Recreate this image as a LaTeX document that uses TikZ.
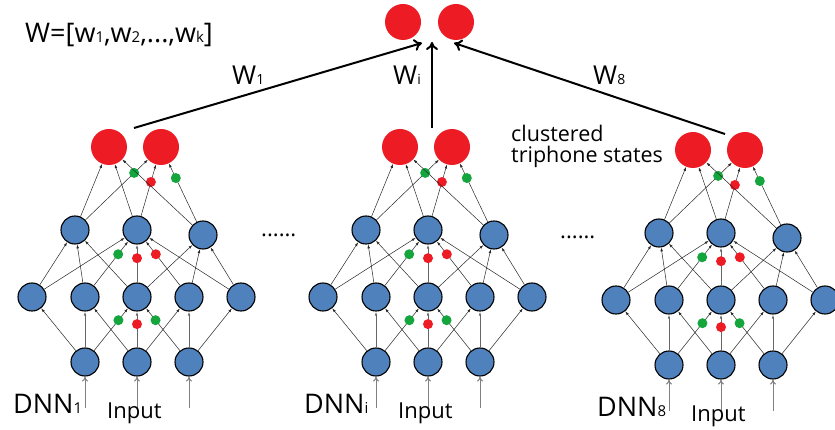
\documentclass[tikz,border=0pt]{standalone}
\usepackage{fontspec}
\setmainfont{Open Sans}
\usetikzlibrary{arrows.meta}
\definecolor{nblue}{RGB}{79,129,189}
\definecolor{nred}{RGB}{237,28,36}
\definecolor{ngreen}{RGB}{20,165,60}
\newcommand{\fs}[1]{\fontsize{#1}{#1}\selectfont}
\tikzset{
  hid/.style={circle, fill=nblue, draw=black, line width=1.1pt, minimum size=28pt, inner sep=0pt},
  outn/.style={circle, fill=nred, minimum size=36pt, inner sep=0pt},
  gdot/.style={circle, fill=ngreen, minimum size=10pt, inner sep=0pt},
  rdot/.style={circle, fill=nred, minimum size=10pt, inner sep=0pt},
  conn/.style={-{Latex[length=4pt,width=2.6pt]}, line width=0.5pt, draw=black!85},
  vconn/.style={-{Latex[length=4pt,width=2.6pt]}, line width=0.9pt, draw=black!60},
  inarr/.style={-{To[length=5pt,width=6pt]}, line width=1pt, draw=black!50},
  bigarr/.style={-{To[length=8pt,width=12pt]}, line width=2pt, draw=black},
  lbl/.style={inner sep=0pt, anchor=base west, text=black},
}
\begin{document}
\begin{tikzpicture}[x=1pt,y=-1pt]
\useasboundingbox (0,0) rectangle (835,430);
% top output nodes
\node[outn] (top1) at (403,22) {};
\node[outn] (top2) at (456,22) {};
\node[lbl] (wvec) at (25,43) {\fs{27}W=[w{\fs{15}1},w{\fs{15}2},...,w{\fs{15}k}]};
% networks
\foreach \n/\dx/\dy/\s in {1/0/0/1, 2/291/0/i, 3/584/3/8} {
\begin{scope}[shift={(\dx,\dy)}]
  \node[outn] (o\n1) at (109,147) {};
  \node[outn] (o\n2) at (161,147) {};
  \node[hid] (t\n1) at (75,230) {};
  \node[hid] (t\n2) at (137,230) {};
  \node[hid] (t\n3) at (203,235) {};
  \node[hid] (m\n1) at (32,297) {};
  \node[hid] (m\n2) at (85,297) {};
  \node[hid] (m\n3) at (137,297) {};
  \node[hid] (m\n4) at (189,297) {};
  \node[hid] (m\n5) at (241,297) {};
  \node[hid] (b\n1) at (85,362) {};
  \node[hid] (b\n2) at (137,362) {};
  \node[hid] (b\n3) at (189,362) {};
  \coordinate (i\n1) at (85,408);
  \coordinate (i\n2) at (137,408);
  \coordinate (i\n3) at (189,408);
  % input arrows
  \draw[inarr] (i\n1) -- (b\n1);
  \draw[inarr] (i\n2) -- (b\n2);
  \draw[inarr] (i\n3) -- (b\n3);
  % bottom -> middle
  \draw[conn] (b\n1) -- (m\n1);
  \draw[vconn] (b\n1) -- (m\n2);
  \draw[conn] (b\n1) -- node[gdot, pos=0.72] (g\n a) {} (m\n3);
  \draw[conn] (b\n2) -- (m\n2);
  \draw[vconn] (b\n2) -- node[rdot, pos=0.65] (r\n a) {} (m\n3);
  \draw[conn] (b\n2) -- (m\n4);
  \draw[conn] (b\n3) -- node[gdot, pos=0.72] (g\n b) {} (m\n3);
  \draw[vconn] (b\n3) -- (m\n4);
  \draw[conn] (b\n3) -- (m\n5);
  % middle -> top hidden
  \draw[conn] (m\n1) -- (t\n1);
  \draw[conn] (m\n1) -- (t\n2);
  \draw[conn] (m\n2) -- (t\n1);
  \draw[conn] (m\n2) -- node[gdot, pos=0.71] (g\n c) {} (t\n2);
  \draw[conn] (m\n3) -- (t\n1);
  \draw[vconn] (m\n3) -- node[rdot, pos=0.64] (r\n b) {} (t\n2);
  \draw[conn] (m\n3) -- (t\n3);
  \draw[conn] (m\n4) -- node[rdot, pos=0.71] (r\n c) {} (t\n2);
  \draw[conn] (m\n4) -- (t\n3);
  \draw[conn] (m\n5) -- (t\n2);
  \draw[conn] (m\n5) -- (t\n3);
  % top hidden -> outputs
  \draw[conn] (t\n1) -- (o\n1);
  \draw[conn] (t\n1) -- node[gdot, pos=0.78] (g\n d) {} (o\n2);
  \draw[conn] (t\n2) -- (o\n1);
  \draw[conn] (t\n2) -- node[rdot, pos=0.66] (r\n d) {} (o\n2);
  \draw[conn] (t\n3) -- (o\n1);
  \draw[conn] (t\n3) -- node[gdot, pos=0.75] (g\n e) {} (o\n2);
  % labels
  \node[lbl] (dnn\n) at (13,413) {\fs{27}DNN{\fs{15}\s}};
  \node[lbl] (inp\n) at (107,418) {\fs{22}Input};
\end{scope}
}
% ellipsis
\node[lbl] (dots1) at (261,237) {\fs{22}......};
\node[lbl] (dots2) at (560,239) {\fs{22}......};
% clustered label
\node[lbl] (clus) at (511,142) {\fs{21.5}clustered};
\node[lbl] (clus2) at (511,163) {\fs{21.5}triphone states};
% combination arrows
\coordinate (s1) at (134,128);
\coordinate (s2) at (432,128);
\coordinate (s3) at (725,134);
\coordinate (e1) at (422,43);
\coordinate (e2) at (432,42);
\coordinate (e3) at (454,43);
\draw[bigarr] (s1) -- (e1);
\draw[bigarr] (s2) -- (e2);
\draw[bigarr] (s3) -- (e3);
\node[lbl] (w1) at (232,85) {\fs{26}W{\fs{14}1}};
\node[lbl] (wi) at (393,85) {\fs{26}W{\fs{14}i}};
\node[lbl] (w8) at (593,85) {\fs{26}W{\fs{14}8}};
\end{tikzpicture}
\end{document}
